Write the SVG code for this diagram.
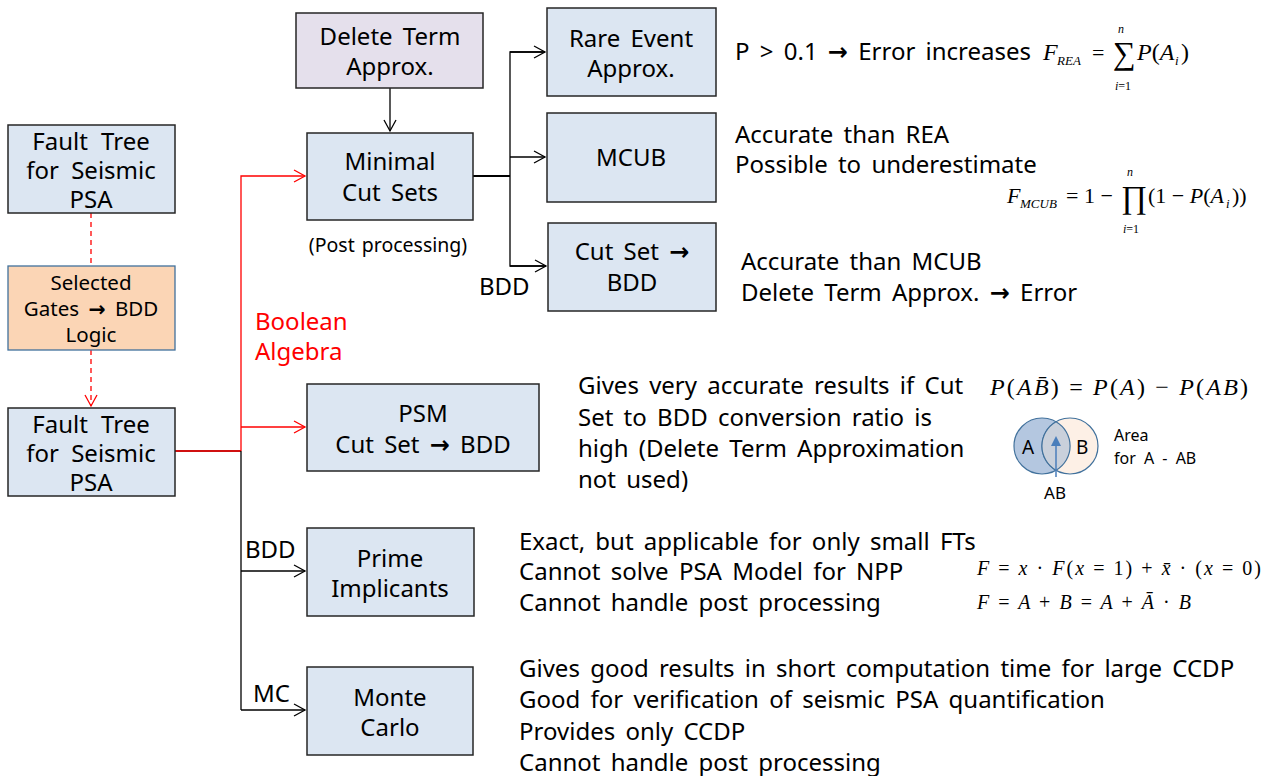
<svg xmlns="http://www.w3.org/2000/svg" width="1273" height="776" viewBox="0 0 1273 776">
  <style>
    text { font-family: "Noto Sans", "Open Sans", sans-serif; font-size: 24px; fill: #000; word-spacing: 4px; }
    .c { text-anchor: middle; }
    .box { fill: #dce6f2; stroke: #262626; stroke-width: 1.5; }
    .sm { font-size: 19.5px; word-spacing: 2px; }
    .red { fill: #ff0000; }
    .arr { font-family: "DejaVu Sans", sans-serif; font-weight: bold; }
    .math { font-family: "Liberation Serif", "DejaVu Serif", serif; font-style: italic; font-size: 22px; word-spacing: 0; }
    .mr { font-family: "Liberation Serif", "DejaVu Serif", serif; font-size: 22px; word-spacing: 0; }
    .n { font-style: normal; }
    .line { fill: none; stroke: #000; stroke-width: 1.3; }
    .rline { fill: none; stroke: #ff0000; stroke-width: 1.3; }
  </style>
  <defs>
    <marker id="ah" markerWidth="14" markerHeight="14" refX="12" refY="7" orient="auto" markerUnits="userSpaceOnUse">
      <path d="M1,1 L12,7 L1,13" fill="none" stroke="#000" stroke-width="1.3"/>
    </marker>
    <marker id="ahr" markerWidth="14" markerHeight="14" refX="12" refY="7" orient="auto" markerUnits="userSpaceOnUse">
      <path d="M1,1 L12,7 L1,13" fill="none" stroke="#ff0000" stroke-width="1.3"/>
    </marker>
  </defs>

  <!-- connectors -->
  <g id="connectors">
    <line x1="91" y1="213" x2="91" y2="266" class="rline" stroke-dasharray="5,4"/>
    <line x1="91" y1="350" x2="91" y2="406" class="rline" stroke-dasharray="5,4" marker-end="url(#ahr)"/>
    <polyline points="175,451 241,451" fill="none" stroke="#d01010" stroke-width="2.2"/>
    <polyline points="241,451 241,176 305,176" class="rline" marker-end="url(#ahr)"/>
    <polyline points="241,427 305,427" class="rline" marker-end="url(#ahr)"/>
    <line x1="241" y1="451" x2="241" y2="710" class="line"/>
    <polyline points="241,571 305,571" class="line" marker-end="url(#ah)"/>
    <polyline points="241,710 305,710" class="line" marker-end="url(#ah)"/>
    <line x1="390" y1="88" x2="390" y2="131" class="line" marker-end="url(#ah)"/>
    <line x1="473" y1="176" x2="510" y2="176" stroke="#000" stroke-width="2.2"/>
    <polyline points="545,52 510,52 510,266 546,266" class="line"/>
    <line x1="510" y1="52" x2="545" y2="52" class="line" marker-end="url(#ah)"/>
    <line x1="510" y1="157" x2="545" y2="157" class="line" marker-end="url(#ah)"/>
    <line x1="510" y1="266" x2="546" y2="266" class="line" marker-end="url(#ah)"/>
  </g>

  <!-- nodes -->
  <g id="ft-top">
    <rect x="8" y="125" width="167" height="88" class="box"/>
    <text x="91" y="150" class="c" style="word-spacing:7px">Fault Tree</text>
    <text x="91" y="179" class="c" style="word-spacing:6px">for Seismic</text>
    <text x="91" y="208" class="c">PSA</text>
  </g>
  <g id="selected-gates">
    <rect x="8" y="266" width="167" height="84" fill="#fbd5b5" stroke="#41719c" stroke-width="1.3"/>
    <text x="91" y="290" class="c" style="font-size:20.5px">Selected</text>
    <text x="91" y="316" class="c" style="font-size:20.5px">Gates <tspan class="arr">→</tspan> BDD</text>
    <text x="91" y="342" class="c" style="font-size:20.5px">Logic</text>
  </g>
  <g id="ft-bottom">
    <rect x="8" y="408" width="167" height="88" class="box"/>
    <text x="91" y="433" class="c" style="word-spacing:7px">Fault Tree</text>
    <text x="91" y="462" class="c" style="word-spacing:6px">for Seismic</text>
    <text x="91" y="491" class="c">PSA</text>
  </g>
  <g id="delete-term">
    <rect x="296" y="13" width="187" height="75" fill="#e5e0ec" stroke="#262626" stroke-width="1.5"/>
    <text x="390" y="45" class="c">Delete Term</text>
    <text x="390" y="75" class="c">Approx.</text>
  </g>
  <g id="mcs">
    <rect x="307" y="133" width="166" height="87" class="box"/>
    <text x="390" y="170" class="c">Minimal</text>
    <text x="390" y="201" class="c">Cut Sets</text>
    <text x="388" y="252" class="c sm">(Post processing)</text>
  </g>
  <g id="rea">
    <rect x="547" y="8" width="169" height="88" class="box"/>
    <text x="631" y="47" class="c">Rare Event</text>
    <text x="631" y="77" class="c">Approx.</text>
  </g>
  <g id="mcub">
    <rect x="547" y="113" width="169" height="89" class="box"/>
    <text x="631" y="166" class="c">MCUB</text>
  </g>
  <g id="cutset-bdd">
    <rect x="548" y="223" width="168" height="88" class="box"/>
    <text x="632" y="260" class="c">Cut Set <tspan class="arr">→</tspan></text>
    <text x="632" y="291" class="c">BDD</text>
  </g>
  <g id="psm">
    <rect x="307" y="384" width="232" height="87" class="box"/>
    <text x="423" y="422" class="c">PSM</text>
    <text x="423" y="453" class="c">Cut Set <tspan class="arr">→</tspan> BDD</text>
  </g>
  <g id="prime">
    <rect x="307" y="528" width="167" height="88" class="box"/>
    <text x="390" y="567" class="c">Prime</text>
    <text x="390" y="597" class="c">Implicants</text>
  </g>
  <g id="monte">
    <rect x="307" y="667" width="166" height="88" class="box"/>
    <text x="390" y="706" class="c">Monte</text>
    <text x="390" y="736" class="c">Carlo</text>
  </g>

  <!-- edge labels -->
  <g id="labels">
    <text x="479" y="295">BDD</text>
    <text x="255" y="330" class="red">Boolean</text>
    <text x="255" y="360" class="red">Algebra</text>
    <text x="245" y="558">BDD</text>
    <text x="253" y="702">MC</text>
  </g>

  <!-- notes -->
  <g id="notes">
    <text x="735" y="60">P &gt; 0.1 <tspan class="arr">→</tspan> Error increases</text>
    <text x="735" y="143">Accurate than REA</text>
    <text x="735" y="173">Possible to underestimate</text>
    <text x="741" y="270">Accurate than MCUB</text>
    <text x="741" y="301">Delete Term Approx. <tspan class="arr">→</tspan> Error</text>
    <text x="578" y="394">Gives very accurate results if Cut</text>
    <text x="578" y="426">Set to BDD conversion ratio is</text>
    <text x="578" y="457">high (Delete Term Approximation</text>
    <text x="578" y="488">not used)</text>
    <text x="519" y="550">Exact, but applicable for only small FTs</text>
    <text x="519" y="580">Cannot solve PSA Model for NPP</text>
    <text x="519" y="611">Cannot handle post processing</text>
    <text x="519" y="677">Gives good results in short computation time for large CCDP</text>
    <text x="519" y="708">Good for verification of seismic PSA quantification</text>
    <text x="519" y="740">Provides only CCDP</text>
    <text x="519" y="771">Cannot handle post processing</text>
  </g>

  <!-- formulas -->
  <g id="f-rea">
    <text x="1043" y="60" class="math" style="font-size:24px">F</text>
    <text x="1057" y="65" class="math" style="font-size:13px">REA</text>
    <text x="1092" y="60" class="mr">=</text>
    <text x="1113" y="64" class="mr" style="font-size:32px">∑</text>
    <text x="1121" y="33" class="math c" style="font-size:12px">n</text>
    <text x="1123" y="90" class="mr c" style="font-size:12px"><tspan font-style="italic">i</tspan>=1</text>
    <text x="1137" y="60" class="math" style="font-size:24px">P<tspan class="n">(</tspan>A</text>
    <text x="1175" y="65" class="math" style="font-size:13px">i</text>
    <text x="1181" y="60" class="mr" style="font-size:24px">)</text>
  </g>
  <g id="f-mcub">
    <text x="1007" y="203" class="math" style="font-size:22px">F</text>
    <text x="1020" y="208" class="math" style="font-size:13px">MCUB</text>
    <text x="1066" y="203" class="mr">= 1 −</text>
    <text x="1121" y="208" class="mr" style="font-size:32px">∏</text>
    <text x="1130" y="176" class="math c" style="font-size:12px">n</text>
    <text x="1131" y="233" class="mr c" style="font-size:12px"><tspan font-style="italic">i</tspan>=1</text>
    <text x="1148" y="203" class="mr">(1 − <tspan font-style="italic">P</tspan>(<tspan font-style="italic">A</tspan></text>
    <text x="1226" y="208" class="math" style="font-size:13px">i</text>
    <text x="1232" y="203" class="mr">))</text>
  </g>
  <g id="f-psm">
    <text x="990" y="395" class="math" style="font-size:24px" textLength="258" lengthAdjust="spacing">P<tspan class="n">(</tspan>A<tspan>B̄</tspan><tspan class="n">) = </tspan>P<tspan class="n">(</tspan>A<tspan class="n">) − </tspan>P<tspan class="n">(</tspan>AB<tspan class="n">)</tspan></text>
  </g>
  <g id="venn">
    <circle cx="1042" cy="446" r="28" fill="#b4c7e0" stroke="#41719c" stroke-width="1.2"/>
    <circle cx="1070" cy="446" r="28" fill="#fdf0e6" stroke="#41719c" stroke-width="1.2"/>
    <path d="M1056,421.7 A28,28 0 0 1 1056,470.3 A28,28 0 0 1 1056,421.7 Z" fill="#c9d0db" stroke="#41719c" stroke-width="1.2"/>
    <line x1="1056" y1="477" x2="1056" y2="443" stroke="#4a7ebb" stroke-width="1.5"/>
    <path d="M1051,446 L1056,436 L1061,446 Z" fill="#4a7ebb"/>
    <text x="1022" y="454" style="font-size:19px">A</text>
    <text x="1076" y="454" style="font-size:19px">B</text>
    <text x="1055" y="499" class="c" style="font-size:17px">AB</text>
    <text x="1114" y="441" style="font-size:16px">Area</text>
    <text x="1114" y="464" style="font-size:16px">for A - AB</text>
  </g>
  <g id="f-prime">
    <text x="977" y="575" class="math" style="font-size:20px" textLength="284" lengthAdjust="spacing">F <tspan class="n">=</tspan> x <tspan class="n">·</tspan> F<tspan class="n">(</tspan>x <tspan class="n">= 1) +</tspan> x̄ <tspan class="n">· (</tspan>x <tspan class="n">= 0)</tspan></text>
    <text x="977" y="609" class="math" style="font-size:20px" textLength="214" lengthAdjust="spacing">F <tspan class="n">=</tspan> A <tspan class="n">+</tspan> B <tspan class="n">=</tspan> A <tspan class="n">+</tspan> Ā <tspan class="n">·</tspan> B</text>
  </g>
</svg>
